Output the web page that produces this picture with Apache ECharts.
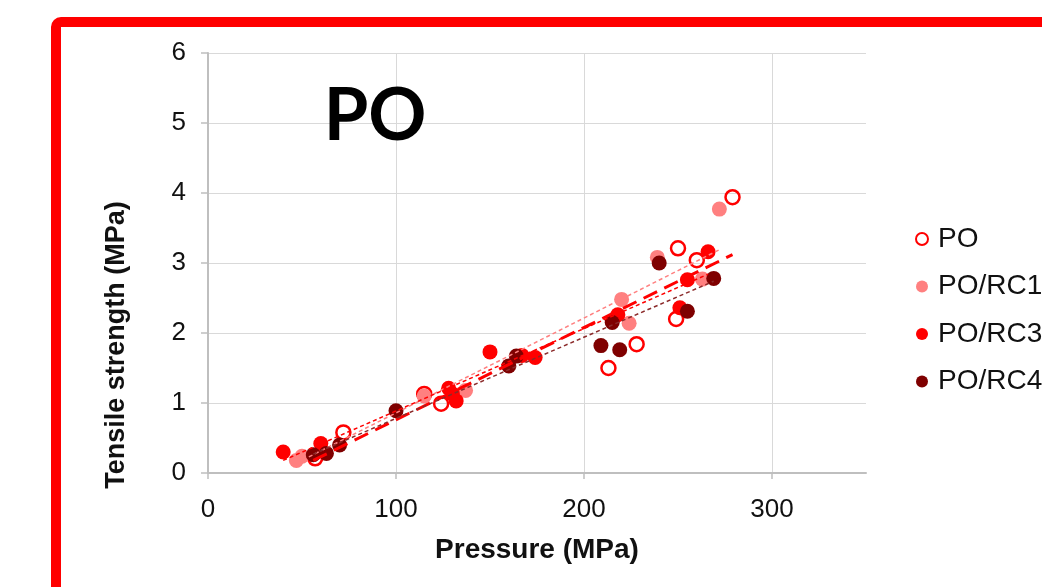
<!DOCTYPE html>
<html>
<head>
<meta charset="utf-8">
<script src="https://cdn.jsdelivr.net/npm/echarts@6/dist/echarts.min.js"></script>
<style>
html,body{margin:0;padding:0;background:#fff;}
#chart{width:1042px;height:587px;}
</style>
</head>
<body>
<div id="chart"></div>
<script>
// ---- data ----
const seriesNames = ['PO', 'PO/RC1', 'PO/RC3', 'PO/RC4'];

const poX  = [57, 72, 115, 124, 213, 228, 249, 250, 260, 279];
const poY  = [0.21, 0.58, 1.13, 0.99, 1.50, 1.84, 2.20, 3.21, 3.04, 3.94];

const rc1X = [47, 50, 115, 137, 220, 224, 239, 263, 272];
const rc1Y = [0.18, 0.24, 1.10, 1.18, 2.48, 2.14, 3.08, 2.77, 3.77];

const rc3X = [40, 60, 128, 130, 132, 150, 167, 174, 218, 251, 255, 266];
const rc3Y = [0.30, 0.42, 1.21, 1.13, 1.03, 1.73, 1.68, 1.65, 2.26, 2.36, 2.76, 3.16];

const rc4X = [56, 63, 70, 100, 160, 164, 209, 215, 219, 240, 255, 269];
const rc4Y = [0.26, 0.28, 0.40, 0.89, 1.53, 1.67, 1.82, 2.15, 1.76, 3.00, 2.31, 2.78];

// linear trend lines (end points)
const trendPO  = [[56, 0.18], [279, 3.12]];
const trendRC1 = [[47, 0.14], [272, 3.19]];
const trendRC3 = [[40, 0.18], [266, 2.84]];
const trendRC4 = [[56, 0.27], [269, 2.74]];

const xTicks = [0, 100, 200, 300];

const colors = { po: '#FF0000', rc1: '#FF8080', rc3: '#FF0000', rc4: '#7F0000' };

function pairs(xs, ys) { return xs.map((x, i) => [x, ys[i]]); }

const chart = echarts.init(document.getElementById('chart'), null, { renderer: 'canvas' });
const font = 'Liberation Sans, Arial, sans-serif';

const option = {
  animation: false,
  backgroundColor: '#ffffff',
  textStyle: { fontFamily: font },
  grid: { left: 208, top: 53, right: 176, bottom: 114, containLabel: false },
  xAxis: {
    type: 'value', min: 0, max: 350, interval: 100,
    name: 'Pressure (MPa)', nameLocation: 'middle', nameGap: 63,
    nameTextStyle: { fontFamily: font, fontSize: 28, fontWeight: 'bold', color: '#111' },
    axisLine: { show: true, lineStyle: { color: '#bfbfbf', width: 2 } },
    axisTick: { show: true, length: 6, lineStyle: { color: '#bfbfbf', width: 1.5 }, customValues: xTicks },
    axisLabel: { fontFamily: font, fontSize: 26, color: '#111', margin: 24, customValues: xTicks },
    splitLine: { show: true, lineStyle: { color: ['#d9d9d9', '#d9d9d9', '#d9d9d9', '#d9d9d9', 'rgba(0,0,0,0)'], width: 1 } }
  },
  yAxis: {
    type: 'value', min: 0, max: 6, interval: 1,
    axisLine: { show: true, lineStyle: { color: '#bfbfbf', width: 2 } },
    axisTick: { show: true, length: 7, lineStyle: { color: '#bfbfbf', width: 1.5 } },
    axisLabel: { fontFamily: font, fontSize: 26, color: '#111', margin: 22 },
    splitLine: { show: true, lineStyle: { color: '#d9d9d9', width: 1 } }
  },
  legend: {
    orient: 'vertical', left: 910, top: 220,
    itemWidth: 12, itemHeight: 12, itemGap: 19.5,
    textStyle: { fontFamily: font, fontSize: 28, color: '#111', lineHeight: 28, padding: [0, 0, 0, 5] },
    data: seriesNames.map(n => ({ name: n, icon: 'circle' }))
  },
  graphic: [
    { type: 'rect', silent: true, z: 100,
      shape: { x: 56, y: 22, width: 1200, height: 800, r: 5 },
      style: { fill: 'none', stroke: '#FF0000', lineWidth: 10 } },
    { type: 'text', silent: true, x: 375, y: 117, z: 50,
      style: { text: 'PO', fontFamily: 'Lato', fontWeight: 'bold', fontSize: 72, fill: '#000',
               textAlign: 'center', textVerticalAlign: 'middle' } },
    { type: 'text', silent: true, x: 117, y: 345, rotation: Math.PI / 2, z: 50,
      style: { text: 'Tensile strength (MPa)', fontFamily: 'Liberation Sans', fontWeight: 'bold', fontSize: 27, fill: '#111',
               textAlign: 'center', textVerticalAlign: 'middle' } }
  ],
  series: [
    { name: 'PO', type: 'scatter', data: pairs(poX, poY), symbol: 'circle', symbolSize: 14, z: 2,
      itemStyle: { color: 'rgba(255,255,255,0)', borderColor: colors.po, borderWidth: 2.5, opacity: 1 } },
    { name: 'PO/RC1', type: 'scatter', data: pairs(rc1X, rc1Y), symbol: 'circle', symbolSize: 15, z: 2,
      itemStyle: { color: colors.rc1, opacity: 1 } },
    { name: 'PO/RC3', type: 'scatter', data: pairs(rc3X, rc3Y), symbol: 'circle', symbolSize: 15, z: 2,
      itemStyle: { color: colors.rc3, opacity: 1 } },
    { name: 'PO/RC4', type: 'scatter', data: pairs(rc4X, rc4Y), symbol: 'circle', symbolSize: 15, z: 2,
      itemStyle: { color: colors.rc4, opacity: 1 } },
    { name: 'trendPO', type: 'line', data: trendPO, showSymbol: false, symbol: 'none', z: 5, silent: true,
      lineStyle: { color: colors.po, width: 3, type: [15, 8] } },
    { name: 'trendRC1', type: 'line', data: trendRC1, showSymbol: false, symbol: 'none', z: 5, silent: true,
      lineStyle: { color: colors.rc1, width: 1.5, type: [4, 3] } },
    { name: 'trendRC3', type: 'line', data: trendRC3, showSymbol: false, symbol: 'none', z: 5, silent: true,
      lineStyle: { color: colors.rc3, width: 1.5, type: [4, 3] } },
    { name: 'trendRC4', type: 'line', data: trendRC4, showSymbol: false, symbol: 'none', z: 5, silent: true,
      lineStyle: { color: '#8B2A2A', width: 1.5, type: [4, 3] } }
  ]
};
chart.setOption(option);
</script>
</body>
</html>
